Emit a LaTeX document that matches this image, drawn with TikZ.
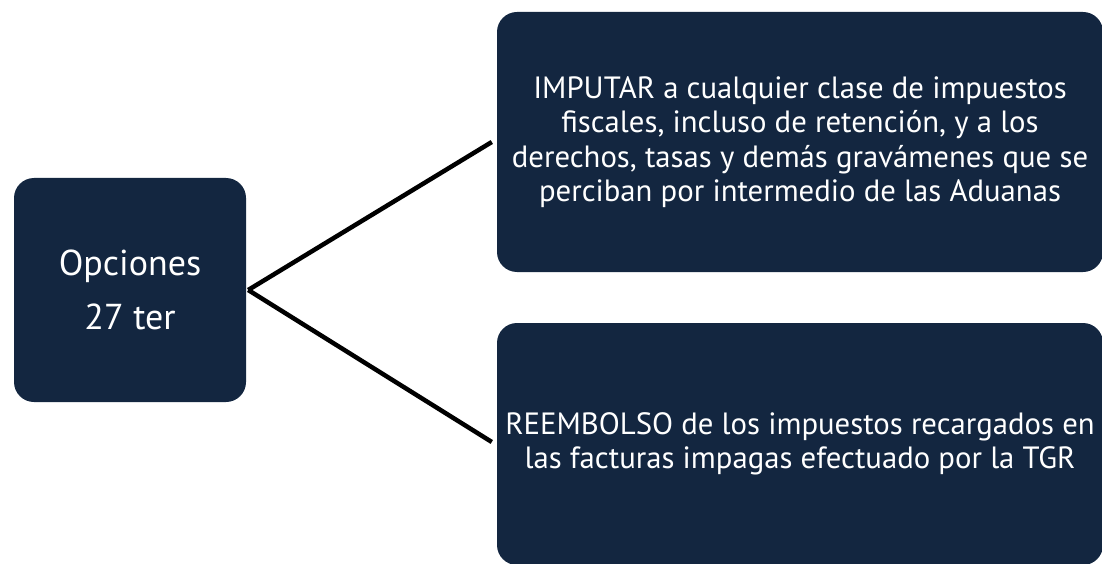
\documentclass[tikz,border=0pt]{standalone}
\usepackage{fontspec}
\setmainfont{PT Sans}
\usetikzlibrary{positioning,calc}
\definecolor{navy}{RGB}{19,38,64}
\tikzset{
  caja/.style={fill=navy, rounded corners=20pt, text=white, align=center, inner sep=0pt},
  rama/.style={line width=4.5pt, black}
}
\begin{document}
\begin{tikzpicture}[x=1pt,y=-1pt]
  \useasboundingbox (0,0) rectangle (1102,564);
  \node[caja, minimum width=232pt, minimum height=224pt,
        font=\fontsize{36}{54}\selectfont] (opc) at (130,290) {Opciones\\27 ter};
  \node[caja, minimum width=606pt, minimum height=260pt,
        font=\fontsize{30.75}{34.5}\selectfont] (imp) at (800,142)
        {IMPUTAR a cualquier clase de impuestos\\fiscales, incluso de retenci\'on, y a los\\derechos, tasas y dem\'as grav\'amenes que se\\perciban por intermedio de las Aduanas};
  \node[caja, minimum width=606pt, minimum height=242pt,
        font=\fontsize{30.75}{34.5}\selectfont] (ree) at (800,444)
        {REEMBOLSO de los impuestos recargados en\\las facturas impagas efectuado por la TGR};
  \draw[rama] ($(opc.east)+(2,0)$) -- ($(imp.west)+(-5,0)$);
  \draw[rama] ($(opc.east)+(2,0)$) -- ($(ree.west)+(-5,-2)$);
\end{tikzpicture}
\end{document}
